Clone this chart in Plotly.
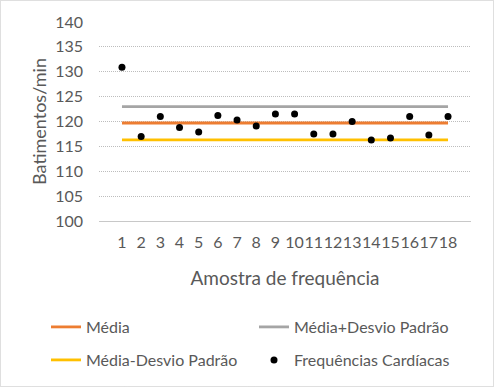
import plotly.graph_objects as go

categories = [str(i) for i in range(1, 19)]
freq = [130.9, 117.0, 121.0, 118.8, 117.9, 121.2, 120.3, 119.1, 121.5,
        121.5, 117.5, 117.5, 120.0, 116.3, 116.7, 121.0, 117.3, 121.0]
media = [119.7] * 18
media_mais = [123.0] * 18
media_menos = [116.3] * 18
y_ticks = [100, 105, 110, 115, 120, 125, 130, 135, 140]

W, H = 494, 387
L, R, T, B = 99, 23, 22, 166
pw, ph = W - L - R, H - T - B
FONT = "Lato"
GRAY = "#595959"

fig = go.Figure()
fig.add_trace(go.Scatter(x=categories, y=media, mode="lines", name="Média",
                         line=dict(color="#ED7D31", width=2.8), legend="legend"))
fig.add_trace(go.Scatter(x=categories, y=media_mais, mode="lines", name="Média+Desvio Padrão",
                         line=dict(color="#A5A5A5", width=2.8), legend="legend"))
fig.add_trace(go.Scatter(x=categories, y=media_menos, mode="lines", name="Média-Desvio Padrão",
                         line=dict(color="#FFC000", width=2.8), legend="legend2"))
fig.add_trace(go.Scatter(x=categories, y=freq, mode="markers", name="Frequências Cardíacas",
                         marker=dict(color="black", size=7), legend="legend2"))

def px_x(p):
    return (p - L) / pw

def px_y(p):
    return (H - B - p) / ph

legend_common = dict(orientation="h", xanchor="left", yanchor="middle",
                     entrywidth=163, entrywidthmode="pixels",
                     font=dict(family=FONT, size=16, color=GRAY),
                     bgcolor="rgba(0,0,0,0)", itemwidth=30)

fig.update_layout(
    width=W, height=H,
    margin=dict(l=L, r=R, t=T, b=B, autoexpand=False),
    paper_bgcolor="white", plot_bgcolor="white",
    font=dict(family=FONT, size=16, color=GRAY),
    xaxis=dict(type="category", showgrid=False, showline=True, linecolor="#C8C8C8",
               linewidth=1, ticks="", tickangle=0, automargin=False, ticklabelstandoff=7,
               tickfont=dict(family=FONT, size=16, color=GRAY),
               title=dict(text="Amostra de frequência", font=dict(family=FONT, size=19, color=GRAY),
                          standoff=21)),
    yaxis=dict(range=[100, 140], tickvals=y_ticks, showgrid=True, gridcolor="#BDBDBD",
               gridwidth=1, griddash="1px,1px", zeroline=False, ticks="", ticklabelstandoff=15,
               automargin=False,
               tickfont=dict(family=FONT, size=16, color=GRAY),
               title=dict(text="Batimentos/min", font=dict(family=FONT, size=18, color=GRAY),
                          standoff=3)),
    legend=dict(x=px_x(46), y=px_y(327), **legend_common),
    legend2=dict(x=px_x(46), y=px_y(360), **legend_common),
    showlegend=True,
    shapes=[dict(type="rect", xref="paper", yref="paper",
                 x0=px_x(0.5), x1=px_x(493.5), y0=px_y(386.5), y1=px_y(0.5),
                 line=dict(color="#BFBFBF", width=1, dash="1px,1px"), layer="below")],
)

fig.write_html("out.html", config={"displayModeBar": False},
               post_script="document.body.style.margin='0';")
